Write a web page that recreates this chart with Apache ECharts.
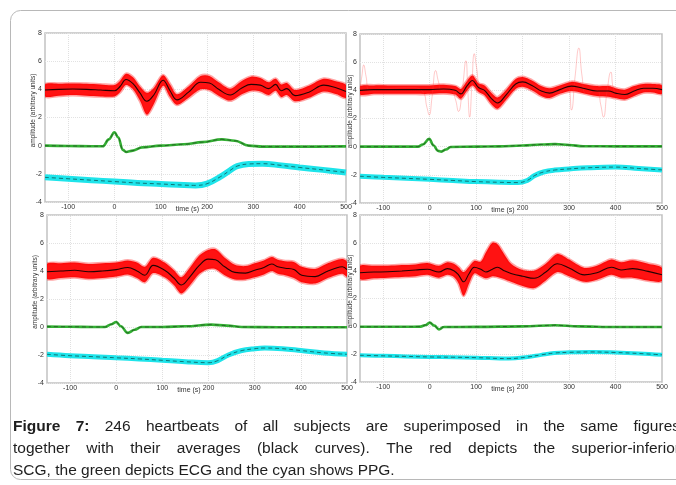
<!DOCTYPE html>
<html><head><meta charset="utf-8">
<script src="https://cdn.jsdelivr.net/npm/echarts@6/dist/echarts.min.js"></script>
<style>html,body{margin:0;padding:0;background:#fff}#c{width:676px;height:485px}</style>
</head><body><div id="c"></div>
<script>
// ---------- tick labels ----------
const xTicks = [-100, 0, 100, 200, 300, 400, 500];
const xName = 'time (s)';
const yName = 'amplitude (arbitrary units)';

// ---------- top-left panel ----------
const tlRedT    = [-150,-120,-90,-60,-30,0,12,25,40,55,70,85,105,120,135,160,186,205,225,250,275,295,315,333,348,360,372,390,420,452,480,500];
const tlRedMean = [3.95,4.0,4.02,4.0,3.95,3.9,4.2,4.7,4.4,3.75,3.15,3.6,4.65,3.9,3.25,3.8,4.5,4.45,4.0,3.6,4.1,4.35,4.3,4.05,4.35,3.9,4.05,3.55,3.8,4.3,4.1,3.85];
const tlRedLo   = [3.5,3.55,3.6,3.55,3.5,3.5,3.8,4.3,4.0,3.2,2.2,2.95,4.25,3.45,2.9,3.4,4.0,3.95,3.55,3.2,3.65,3.9,3.85,3.6,3.9,3.45,3.6,3.15,3.4,3.85,3.65,3.4];
const tlRedHi   = [4.35,4.4,4.42,4.4,4.35,4.3,4.6,5.1,4.85,4.2,3.75,4.1,5.0,4.35,3.65,4.2,4.95,4.95,4.5,4.05,4.6,4.9,4.8,4.5,4.75,4.35,4.45,3.95,4.25,4.75,4.55,4.3];
const tlEcgT = [-150,-100,-50,-25,-12,0,8,18,25,40,60,100,150,190,232,260,290,320,400,500];
const tlEcgV = [0.0,-0.02,-0.04,-0.04,0.45,0.95,0.6,-0.3,-0.45,-0.35,-0.12,0.0,0.1,0.25,0.45,0.35,0.0,-0.07,-0.07,-0.05];
const tlPpgT = [-150,-100,-50,0,50,100,150,175,200,229,250,265,290,320,360,400,450,500];
const tlPpgV = [-2.25,-2.35,-2.45,-2.55,-2.65,-2.72,-2.8,-2.82,-2.7,-2.2,-1.75,-1.45,-1.3,-1.28,-1.4,-1.55,-1.72,-1.9];

// ---------- top-right panel ----------
const trRedT    = [-150,-120,-90,-60,-30,0,30,55,67,80,92,105,118,132,146,165,185,200,220,240,258,280,305,330,360,385,400,420,440,460,480,500];
const trRedMean = [4.0,4.05,4.05,4.05,4.05,4.05,4.1,4.0,3.75,4.3,4.7,4.2,4.0,3.45,3.1,3.7,4.45,4.6,4.35,3.95,3.8,4.05,4.3,4.15,3.95,3.95,3.8,3.7,3.95,4.15,4.15,4.05];
const trRedLo   = [3.7,3.75,3.75,3.75,3.75,3.75,3.8,3.7,3.4,3.95,4.35,3.9,3.65,3.05,2.7,3.35,4.1,4.25,4.0,3.6,3.45,3.75,3.95,3.8,3.6,3.55,3.45,3.35,3.6,3.85,3.85,3.75];
const trRedHi   = [4.3,4.35,4.35,4.35,4.35,4.35,4.4,4.3,4.1,4.65,5.05,4.5,4.35,3.85,3.5,4.05,4.8,4.95,4.7,4.3,4.15,4.35,4.6,4.45,4.3,4.3,4.15,4.05,4.3,4.45,4.45,4.35];
const trOutT = [-150,-146,-142,-137,-130,-100,-40,-15,-6,-1,5,13,19,26,45,55,62,70,78,82,86,91,96,101,108,125,146,175,200,240,270,298,305,313,321,328,336,360,368,374,382,390,397,420,460,500];
const trOutV = [4.1,5.0,5.8,5.0,4.0,4.1,4.2,3.9,2.8,2.25,3.5,5.4,4.6,4.0,4.1,3.4,2.5,4.0,6.1,4.0,2.1,4.5,6.6,5.6,4.3,3.8,3.3,4.2,4.6,3.9,3.8,4.2,2.6,5.0,7.0,5.0,3.8,4.0,3.0,2.1,4.0,5.3,4.0,3.7,4.2,4.1];
const trEcgT = [-150,-100,-50,-25,-15,-1,8,18,25,35,45,100,150,200,240,270,300,330,400,500];
const trEcgV = [0.0,0.0,0.0,0.0,0.15,0.55,0.1,-0.3,-0.35,-0.2,-0.02,0.0,0.02,0.08,0.15,0.18,0.12,0.03,0.02,0.02];
const trPpgT = [-150,-100,-50,0,50,100,150,190,210,226,245,269,300,340,400,450,500];
const trPpgV = [-2.1,-2.18,-2.25,-2.32,-2.4,-2.48,-2.53,-2.55,-2.4,-2.05,-1.8,-1.66,-1.58,-1.5,-1.45,-1.55,-1.65];

// ---------- bottom-left panel ----------
const blRedT    = [-150,-120,-90,-60,-30,0,25,45,62,80,105,125,141,160,180,199,215,235,257,280,300,320,337,350,366,385,402,431,455,475,490,500];
const blRedMean = [3.95,4.0,4.05,3.95,4.0,4.1,4.25,4.0,3.7,4.4,4.05,3.5,3.0,3.6,4.4,4.85,4.8,4.3,3.9,3.85,4.05,4.25,4.5,4.3,4.2,4.1,3.7,3.6,3.95,4.2,4.3,4.1];
const blRedLo   = [3.45,3.5,3.55,3.45,3.5,3.6,3.75,3.5,3.2,3.85,3.55,3.0,2.4,3.0,3.8,4.15,4.15,3.7,3.4,3.4,3.55,3.75,4.0,3.8,3.7,3.5,3.2,3.1,3.45,3.7,3.8,3.6];
const blRedHi   = [4.5,4.55,4.6,4.5,4.55,4.6,4.75,4.6,4.3,4.95,4.6,4.05,3.55,4.25,5.1,5.5,5.55,4.95,4.45,4.35,4.55,4.75,5.0,4.8,4.7,4.65,4.3,4.15,4.5,4.75,4.85,4.65];
const blEcgT = [-150,-100,-50,-25,-10,0,10,25,40,54,100,150,206,240,272,350,500];
const blEcgV = [0.03,0.02,0.0,0.0,0.2,0.36,0.05,-0.42,-0.2,0.0,0.0,0.05,0.17,0.1,0.0,-0.02,-0.02];
const blPpgT = [-150,-100,-50,0,50,100,150,200,220,243,270,300,322,360,400,450,500];
const blPpgV = [-1.95,-2.05,-2.12,-2.2,-2.28,-2.38,-2.48,-2.55,-2.4,-2.0,-1.7,-1.55,-1.5,-1.55,-1.68,-1.85,-1.95];

// ---------- bottom-right panel ----------
const brRedT    = [-150,-120,-90,-60,-30,-5,20,38,52,62,73,85,96,110,121,135,146,160,175,200,225,250,275,300,333,360,391,412,437,470,500];
const brRedMean = [3.85,3.9,3.92,3.98,4.05,4.1,3.9,4.15,4.0,3.7,3.2,3.8,4.25,4.1,3.9,4.1,4.25,4.0,3.8,3.6,3.45,3.9,4.5,4.2,3.7,3.85,4.25,4.05,4.15,3.95,3.7];
const brRedLo   = [3.4,3.45,3.5,3.55,3.6,3.7,3.5,3.7,3.55,3.1,2.2,3.1,3.8,3.6,3.45,3.6,3.55,3.4,3.2,2.9,2.75,3.3,3.9,3.6,3.2,3.35,3.7,3.5,3.5,3.3,3.25];
const brRedHi   = [4.35,4.35,4.35,4.4,4.45,4.55,4.35,4.6,4.5,4.25,3.9,4.3,4.7,4.65,5.3,6.0,5.9,5.2,4.5,4.05,4.0,4.5,5.2,4.8,4.2,4.35,4.8,4.6,4.75,4.5,4.2];
const brEcgT = [-150,-50,-20,-8,0,10,20,30,100,200,270,320,400,500];
const brEcgV = [-0.03,-0.03,-0.02,0.1,0.27,0.05,-0.22,-0.05,-0.04,0.0,0.08,0.0,-0.05,-0.05];
const brPpgT = [-150,-100,-50,0,50,100,170,211,240,268,300,347,400,450,500];
const brPpgV = [-2.08,-2.12,-2.16,-2.2,-2.22,-2.25,-2.32,-2.2,-2.05,-1.92,-1.87,-1.84,-1.88,-1.95,-2.05];

const captionBold = 'Figure 7:';
const captionLines = [
  'Figure 7: 246 heartbeats of all subjects are superimposed in the same figures',
  'together with their averages (black curves). The red depicts the superior-inferior',
  'SCG, the green depicts ECG and the cyan shows PPG.'
];

// ---------- build ----------
const panels = [
  {red:[tlRedT,tlRedMean,tlRedLo,tlRedHi], ecg:[tlEcgT,tlEcgV], ppg:[tlPpgT,tlPpgV], out:null},
  {red:[trRedT,trRedMean,trRedLo,trRedHi], ecg:[trEcgT,trEcgV], ppg:[trPpgT,trPpgV], out:[trOutT,trOutV]},
  {red:[blRedT,blRedMean,blRedLo,blRedHi], ecg:[blEcgT,blEcgV], ppg:[blPpgT,blPpgV], out:null},
  {red:[brRedT,brRedMean,brRedLo,brRedHi], ecg:[brEcgT,brEcgV], ppg:[brPpgT,brPpgV], out:null}
];
const layout = [
  {left:45, top:33, width:301, height:169, yGap:8, cyanW:6},
  {left:360, top:34, width:302, height:169, yGap:6, cyanW:5},
  {left:47, top:215, width:300, height:168, yGap:8, cyanW:5},
  {left:360, top:215, width:302, height:167, yGap:6, cyanW:4}
];
const FONT = 'Liberation Sans, Arial, sans-serif';
const pairs = (t, v) => t.map((x, i) => [x, v[i]]);

const grid = [], xAxis = [], yAxis = [], series = [];
layout.forEach((L, i) => {
  grid.push({left:L.left, top:L.top, width:L.width, height:L.height, show:true,
    borderColor:'#c2c2c2', borderWidth:1.5});
  xAxis.push({type:'value', gridIndex:i, min:-150, max:500, interval:50,
    name:xName, nameLocation:'middle', nameGap:4, nameMoveOverlap:false,
    nameTextStyle:{fontSize:7, color:'#333', fontFamily:FONT, padding:[0,16,0,0]},
    axisLine:{show:false}, axisTick:{show:false}, splitLine:{show:false},
    axisLabel:{fontSize:7, color:'#333', margin:2, fontFamily:FONT,
      formatter: v => (v % 100 === 0 ? String(v) : '')}});
  yAxis.push({type:'value', gridIndex:i, min:-4, max:8, interval:2,
    name:yName, nameLocation:'middle', nameGap:L.yGap, nameMoveOverlap:false,
    nameTextStyle:{fontSize:6.5, color:'#333', fontFamily:FONT, padding:[0,0,0,14]},
    axisLine:{show:false}, axisTick:{show:false},
    splitLine:{show:true, lineStyle:{color:'#e2e2e2', type:'dotted', width:1}},
    axisLabel:{fontSize:7, color:'#333', margin:3, fontFamily:FONT}});
  const P = panels[i];
  const base = {xAxisIndex:i, yAxisIndex:i, silent:true, animation:false};
  const line = Object.assign({type:'line', symbol:'none'}, base);
  // vertical grid lines at x ticks (behind the data)
  series.push(Object.assign({}, line, {data:[], z:0, lineStyle:{width:0},
    markLine:{silent:true, z:0, symbol:['none','none'], label:{show:false}, animation:false,
      lineStyle:{color:'#e0e0e0', type:'dotted', width:1},
      data: xTicks.slice(0, -1).map(v => ({xAxis:v}))}}));
  if (P.out) {
    series.push(Object.assign({}, line, {data:pairs(P.out[0], P.out[1]), smooth:0.5,
      lineStyle:{color:'rgba(255,60,60,0.28)', width:1}}));
  }
  const [rt, rm, rlo, rhi] = P.red;
  // red envelope band (all superimposed beats) as polygon through the axis scales
  series.push(Object.assign({type:'custom', clip:true}, base, {
    data: rt.map((t, k) => [t, rlo[k], rhi[k]]),
    encode:{x:0, y:[1, 2]},
    renderItem: (params, api) => {
      if (params.dataIndex !== 0) return null;
      const pts = [];
      for (let k = 0; k < rt.length; k++) pts.push(api.coord([rt[k], rlo[k]]));
      for (let k = rt.length - 1; k >= 0; k--) pts.push(api.coord([rt[k], rhi[k]]));
      return {type:'polygon', shape:{points:pts, smooth:0.3},
        style:{fill:'rgba(255,0,0,0.93)', stroke:'rgba(255,0,0,0.35)', lineWidth:3}};
    }}));
  series.push(Object.assign({}, line, {data:pairs(rt, rm), smooth:0.4,
    lineStyle:{color:'#000', width:1.1, opacity:0.85}}));
  const ecg = pairs(P.ecg[0], P.ecg[1]);
  series.push(Object.assign({}, line, {data:ecg, smooth:0.4, smoothMonotone:'x',
    lineStyle:{color:'#33b033', width:2.6}}));
  series.push(Object.assign({}, line, {data:ecg, smooth:0.4, smoothMonotone:'x',
    lineStyle:{color:'#1d2e1d', width:0.8, type:[4,3], opacity:0.7}}));
  const ppg = pairs(P.ppg[0], P.ppg[1]);
  series.push(Object.assign({}, line, {data:ppg, smooth:0.4,
    lineStyle:{color:'#1ee4ea', width:L.cyanW}}));
  series.push(Object.assign({}, line, {data:ppg, smooth:0.4,
    lineStyle:{color:'#0b3c3c', width:0.9, type:[4,3], opacity:0.75}}));
});

// ---------- caption (justified first two lines) ----------
const CAP_SIZE = 15.5, CAP_LEFT = 13, CAP_RIGHT = 680, CAP_Y0 = 427, CAP_LH = 22;
const mctx = document.createElement('canvas').getContext('2d');
const fontOf = b => (b ? 'bold ' : '') + CAP_SIZE + 'px ' + FONT;
const boldWords = captionBold.split(' ');
const graphic = [
  {type:'rect', silent:true, z:-10, shape:{x:10.5, y:10.5, width:720, height:469, r:10},
   style:{fill:'none', stroke:'#b8b8b8', lineWidth:1}}
];
captionLines.forEach((ln, k) => {
  const words = ln.split(' ');
  const isBold = words.map((w, j) => k === 0 && j < boldWords.length);
  const widths = words.map((w, j) => { mctx.font = fontOf(isBold[j]); return mctx.measureText(w).width; });
  const total = widths.reduce((a, b) => a + b, 0);
  mctx.font = fontOf(false);
  const space = k < captionLines.length - 1
    ? (CAP_RIGHT - CAP_LEFT - total) / (words.length - 1)
    : mctx.measureText(' ').width;
  let x = CAP_LEFT;
  words.forEach((w, j) => {
    graphic.push({type:'text', silent:true, x:x, y:CAP_Y0 + k * CAP_LH,
      style:{text:w, font:fontOf(isBold[j]), fill:'#1e1e1e', verticalAlign:'middle'}});
    x += widths[j] + space;
  });
});

const chart = echarts.init(document.getElementById('c'), null, {renderer:'canvas'});
chart.setOption({animation:false, backgroundColor:'#fff', grid, xAxis, yAxis, series, graphic});
</script></body></html>
